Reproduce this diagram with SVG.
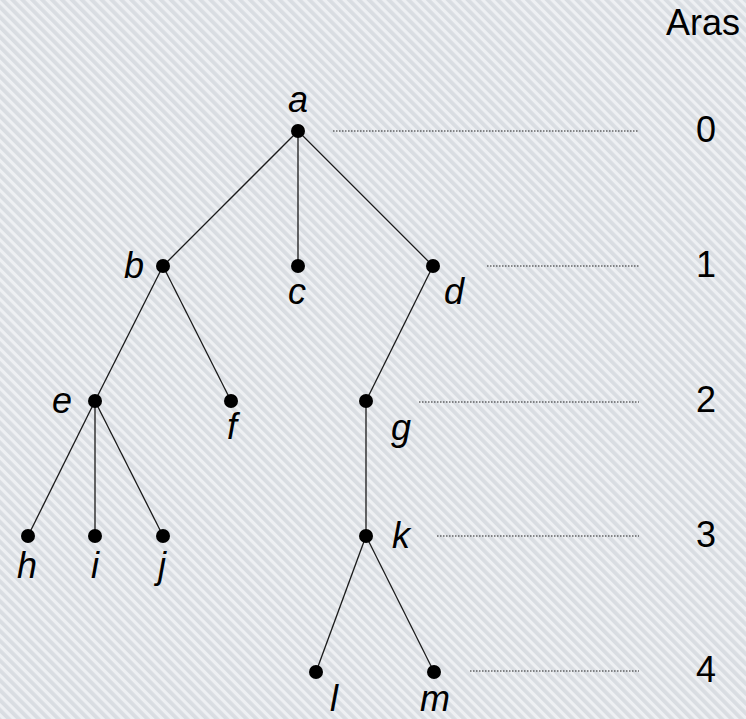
<svg xmlns="http://www.w3.org/2000/svg" width="746" height="719" viewBox="0 0 746 719">
  <defs>
    <pattern id="bg" width="7" height="7" patternUnits="userSpaceOnUse" patternTransform="rotate(45)">
      <rect width="7" height="7" fill="#d9dde2"/>
      <rect y="0" width="7" height="3.2" fill="#eef0f3"/>
    </pattern>
  </defs>
  <style>
    .edge { stroke: #1a1a1a; stroke-width: 1.3; fill: none; }
    .lvl { stroke: #222; stroke-width: 1; stroke-dasharray: 1.5 1.5; fill: none; }
    .dot { fill: #000; }
    .lbl { font-family: "Liberation Sans", Arial, sans-serif; font-style: italic; font-size: 36px; fill: #000; text-anchor: middle; }
    .num { font-family: "Liberation Sans", Arial, sans-serif; font-size: 36px; fill: #000; text-anchor: middle; }
  </style>
  <rect width="746" height="719" fill="url(#bg)"/>

  <g id="connectors">
    <line class="edge" x1="298" y1="131" x2="163" y2="266"/>
    <line class="edge" x1="298" y1="131" x2="298" y2="266"/>
    <line class="edge" x1="298" y1="131" x2="433" y2="266"/>
    <line class="edge" x1="163" y1="266" x2="95" y2="401"/>
    <line class="edge" x1="163" y1="266" x2="231" y2="401"/>
    <line class="edge" x1="433" y1="266" x2="366" y2="401"/>
    <line class="edge" x1="95" y1="401" x2="28" y2="536"/>
    <line class="edge" x1="95" y1="401" x2="95" y2="536"/>
    <line class="edge" x1="95" y1="401" x2="163" y2="536"/>
    <line class="edge" x1="366" y1="401" x2="366" y2="536"/>
    <line class="edge" x1="366" y1="536" x2="316" y2="672"/>
    <line class="edge" x1="366" y1="536" x2="434" y2="672"/>
  </g>

  <g id="levels">
    <line class="lvl" x1="333" y1="131" x2="639" y2="131"/>
    <line class="lvl" x1="487" y1="266" x2="639" y2="266"/>
    <line class="lvl" x1="419" y1="402" x2="639" y2="402"/>
    <line class="lvl" x1="437" y1="536" x2="639" y2="536"/>
    <line class="lvl" x1="470" y1="671" x2="639" y2="671"/>
    <text class="num" x="666" y="35" style="text-anchor:start">Aras</text>
    <text class="num" x="706" y="142">0</text>
    <text class="num" x="706" y="277">1</text>
    <text class="num" x="706" y="412">2</text>
    <text class="num" x="706" y="547">3</text>
    <text class="num" x="706" y="682">4</text>
  </g>

  <g id="node-a"><circle class="dot" cx="298" cy="131" r="7"/><text class="lbl" x="298" y="112">a</text></g>
  <g id="node-b"><circle class="dot" cx="163" cy="266" r="7"/><text class="lbl" x="134" y="278">b</text></g>
  <g id="node-c"><circle class="dot" cx="298" cy="266" r="7"/><text class="lbl" x="297" y="304">c</text></g>
  <g id="node-d"><circle class="dot" cx="433" cy="266" r="7"/><text class="lbl" x="454" y="304">d</text></g>
  <g id="node-e"><circle class="dot" cx="95" cy="401" r="7"/><text class="lbl" x="62" y="413">e</text></g>
  <g id="node-f"><circle class="dot" cx="231" cy="401" r="7"/><text class="lbl" x="232" y="439">f</text></g>
  <g id="node-g"><circle class="dot" cx="366" cy="401" r="7"/><text class="lbl" x="401" y="440">g</text></g>
  <g id="node-h"><circle class="dot" cx="28" cy="536" r="7"/><text class="lbl" x="27" y="578">h</text></g>
  <g id="node-i"><circle class="dot" cx="95" cy="536" r="7"/><text class="lbl" x="95" y="578">i</text></g>
  <g id="node-j"><circle class="dot" cx="163" cy="536" r="7"/><text class="lbl" x="162" y="578">j</text></g>
  <g id="node-k"><circle class="dot" cx="366" cy="536" r="7"/><text class="lbl" x="401" y="548">k</text></g>
  <g id="node-l"><circle class="dot" cx="316" cy="672" r="7"/><text class="lbl" x="334" y="711">l</text></g>
  <g id="node-m"><circle class="dot" cx="434" cy="672" r="7"/><text class="lbl" x="435" y="711">m</text></g>
</svg>
